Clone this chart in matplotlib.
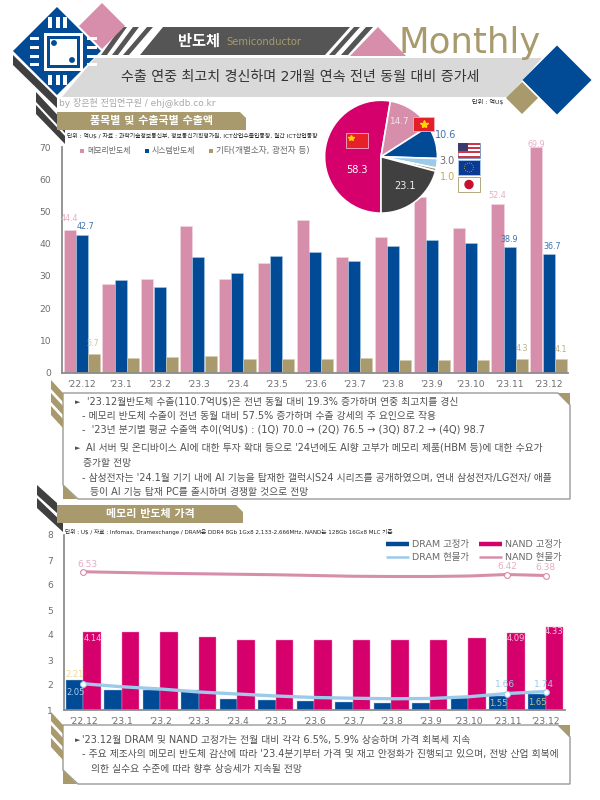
import matplotlib
matplotlib.use('Agg')
import numpy as np
import matplotlib.pyplot as plt
from matplotlib.patches import Polygon, Rectangle, Circle

plt.rcParams['font.family'] = ['DejaVu Sans', 'Noto Sans CJK KR']

months = ["'22.12", "'23.1", "'23.2", "'23.3", "'23.4", "'23.5", "'23.6", "'23.7", "'23.8", "'23.9", "'23.10", "'23.11", "'23.12"]

# export by item
memory = [44.4, 27.4, 29.0, 45.4, 29.1, 33.9, 47.4, 35.8, 42.2, 54.4, 44.8, 52.4, 69.9]
system = [42.7, 28.7, 26.7, 36.0, 30.8, 36.1, 37.5, 34.5, 39.4, 41.3, 40.3, 38.9, 36.7]
others = [5.7, 4.6, 4.9, 5.2, 4.2, 4.1, 4.2, 4.5, 4.0, 3.8, 3.8, 4.3, 4.1]

# export by country
pie_values = [58.3, 14.7, 10.6, 3.0, 1.0, 23.1]

# memory prices
dram_fixed = [2.21, 1.81, 1.81, 1.80, 1.44, 1.40, 1.36, 1.33, 1.28, 1.30, 1.47, 1.55, 1.65]
nand_fixed = [4.14, 4.14, 4.14, 3.93, 3.82, 3.82, 3.82, 3.82, 3.82, 3.82, 3.88, 4.09, 4.33]
dram_spot = [2.05, 1.93, 1.84, 1.72, 1.64, 1.56, 1.50, 1.47, 1.45, 1.46, 1.53, 1.66, 1.74]
nand_spot = [6.53, 6.50, 6.47, 6.45, 6.43, 6.41, 6.38, 6.35, 6.34, 6.34, 6.36, 6.42, 6.38]

PINK = '#D78EAB'
BLUE = '#004A96'
TAN = '#A89A6C'
MAGENTA = '#D6006C'
DARK = '#404040'
SKY = '#9CCBEA'
GRAY = '#6E6E6E'

fig = plt.figure(figsize=(6, 8), dpi=100)


def px_axes(x0, y0, x1, y1, **kw):
    return fig.add_axes([x0 / 600, 1 - y1 / 800, (x1 - x0) / 600, (y1 - y0) / 800], **kw)


def style(ax, ymin, ymax, step):
    for s in ['top', 'right']:
        ax.spines[s].set_visible(False)
    for s in ['left', 'bottom']:
        ax.spines[s].set_color('#8C8C8C')
        ax.spines[s].set_linewidth(1.3)
    ax.set_xlim(0, 13)
    ax.set_ylim(ymin, ymax)
    ax.set_yticks(range(ymin, ymax + 1, step))
    ax.set_xticks(np.arange(13) + 0.5)
    ax.set_xticklabels(months)
    ax.tick_params(length=0, labelsize=6.6, colors=GRAY)
    ax.tick_params(axis='y', pad=8)
    ax.tick_params(axis='x', pad=5)
    ax.patch.set_alpha(0)


def note(ax, x, y, txt, color, dx=0, dy=5, size=5.8):
    ax.annotate(txt, (x, y), xytext=(dx, dy), textcoords='offset pixels', ha='center', va='center',
                fontsize=size, color=color)


# top chart
ax1 = px_axes(62.3, 147, 568, 372.7, zorder=1)
style(ax1, 0, 70, 10)
idx = np.arange(13)
ax1.bar(idx + 0.187, memory, 0.31, color=PINK, edgecolor='#F3D9E3', linewidth=0.4)
ax1.bar(idx + 0.5, system, 0.31, color=BLUE, edgecolor='#A9CBE8', linewidth=0.4)
ax1.bar(idx + 0.813, others, 0.31, color=TAN, edgecolor='#D5CCAE', linewidth=0.4)
note(ax1, 0.187, memory[0], '44.4', '#E3AFC3', dy=11)
note(ax1, 0.6, system[0], '42.7', '#3D72AC', dy=9)
note(ax1, 0.78, others[0], '5.7', '#CFC6A4', dy=11)
note(ax1, 11.187, memory[11], '52.4', '#E3AFC3', dy=8)
note(ax1, 11.5, system[11], '38.9', '#3D72AC', dy=8)
note(ax1, 12.187, memory[12], '69.9', '#E3AFC3', dy=3)
note(ax1, 12.6, system[12], '36.7', '#3D72AC', dy=8)
note(ax1, 11.813, others[11], '4.3', '#B9AE88', dy=10)
note(ax1, 12.813, others[12], '4.1', '#B9AE88', dy=10)

# pie
pax = px_axes(381 - 57, 156.7 - 57, 381 + 57, 156.7 + 57, zorder=2)
pax.pie(pie_values, colors=[MAGENTA, PINK, BLUE, SKY, TAN, DARK], startangle=-90, counterclock=False,
        radius=1.0, wedgeprops={'edgecolor': 'white', 'linewidth': 1.2})
pax.set_xlim(-1.01, 1.01)
pax.set_ylim(-1.01, 1.01)

# bottom chart
ax2 = px_axes(64, 535, 565, 710, zorder=1)
style(ax2, 1, 8, 1)
ax2.bar(idx + 0.268, dram_fixed, 0.455, color=BLUE, edgecolor='#A9CBE8', linewidth=0.3)
ax2.bar(idx + 0.722, nand_fixed, 0.455, color=MAGENTA, edgecolor='#F08CBB', linewidth=0.3)
ax2.plot(idx + 0.5, dram_spot, color=SKY, lw=2.4, zorder=4)
ax2.plot(idx + 0.5, nand_spot, color=PINK, lw=2.2, zorder=4)
mark = [0, 11, 12]
ax2.plot(idx[mark] + 0.5, [dram_spot[i] for i in mark], 'o', ms=4.2, mfc='white', mec=SKY, mew=0.8, zorder=5)
ax2.plot(idx[mark] + 0.5, [nand_spot[i] for i in mark], 'o', ms=4.2, mfc='white', mec=PINK, mew=0.8, zorder=5)
note(ax2, 0.28, dram_fixed[0], '2.21', '#F6D77F', dy=5, size=6)
note(ax2, 0.3, dram_spot[0], '2.05', '#A9CDE9', dy=-9, size=6)
note(ax2, 0.75, nand_fixed[0], '4.14', '#F7C4DC', dy=-7, size=6)
note(ax2, 11.72, nand_fixed[11], '4.09', '#F7C4DC', dy=-6, size=6)
note(ax2, 12.72, nand_fixed[12], '4.33', '#F7C4DC', dy=-5, size=6)
note(ax2, 0.6, nand_spot[0], '6.53', '#E3AFC3', dy=7, size=6.5)
note(ax2, 11.5, nand_spot[11], '6.42', '#E3AFC3', dy=8, size=6.5)
note(ax2, 12.5, nand_spot[12], '6.38', '#E3AFC3', dy=8, size=6.5)
note(ax2, 11.45, dram_spot[11], '1.66', SKY, dy=9, size=6.5)
note(ax2, 12.45, dram_spot[12], '1.74', SKY, dy=7, size=6.5)
note(ax2, 11.27, dram_fixed[11], '1.55', '#C9C08E', dy=-7, size=6)
note(ax2, 12.27, dram_fixed[12], '1.65', '#C9C08E', dy=-9, size=6)

# everything decorative goes on a full page axes in pixels
deco = fig.add_axes([0, 0, 1, 1], zorder=3)
deco.set_xlim(0, 600)
deco.set_ylim(800, 0)
deco.axis('off')


def poly(pts, color, z=1, **kw):
    deco.add_patch(Polygon(pts, closed=True, facecolor=color, edgecolor='none', zorder=z, **kw))


def diamond(cx, cy, r, color, z=1):
    poly([(cx - r, cy), (cx, cy - r), (cx + r, cy), (cx, cy + r)], color, z)


def rect(x, y, w, h, color, z=2, **kw):
    deco.add_patch(Rectangle((x, y), w, h, facecolor=color, zorder=z, **kw))


def label(x, y, s, size, color='#4A4A4A', ha='left', **kw):
    deco.text(x, y, s, fontsize=size, color=color, ha=ha, va='center', zorder=6, **kw)


# left strips under the chip
poly([(13, 55), (57, 98), (57, 108), (13, 65)], DARK)
poly([(36, 92), (65, 123), (65, 133), (36, 102)], DARK)
poly([(36, 105), (65, 136), (65, 144), (36, 114)], DARK)

# header band
poly([(163, 27), (350, 27), (325, 55), (140, 55)], '#555555')
for bx, tx, w in [(101, 121, 6), (112, 133, 6), (123, 147, 6), (329, 354, 6), (341, 366, 7)]:
    poly([(tx, 27), (tx + w, 27), (bx + w, 55), (bx, 55)], '#555555')
poly([(378, 27), (406, 56), (350, 56)], PINK)
diamond(102, 26, 23, PINK, 2)
poly([(95, 58), (542, 58), (508, 97), (62, 97)], '#D9D9D9')

# chip
diamond(57, 51, 44, BLUE, 3)
rect(44, 33, 39, 38, 'white', 4)
rect(47, 36, 33, 32, BLUE, 4)
rect(50, 39, 27, 26, 'white', 4)
deco.add_patch(Circle((54, 43), 2.2, color=BLUE, zorder=5))
deco.add_patch(Circle((72, 60), 2.2, color=BLUE, zorder=5))
for px in [48, 56, 63]:
    rect(px, 17, 3.6, 11, 'white', 4)
    rect(px, 75, 3.6, 10, 'white', 4)
for py in [37, 46, 55, 63]:
    rect(30, py, 9, 3.4, 'white', 4)
    rect(87, py, 10, 3.4, 'white', 4)

diamond(522, 98, 16, TAN)
diamond(557, 80, 34.5, BLUE)

label(199, 41, '반도체', 11, 'white', ha='center', fontweight='bold')
label(226, 42, 'Semiconductor', 7.2, TAN)
deco.text(398, 53, 'Monthly', fontsize=25.6, color=TAN, ha='left', va='baseline', zorder=6)
label(300, 77, '수출 연중 최고치 경신하며 2개월 연속 전년 동월 대비 증가세', 10.1, '#333333', ha='center')
label(59, 103, 'by 장은현 전임연구원 / ehj@kdb.co.kr', 6.5, '#A8A8A8')
label(472, 102, '단위 : 억U$', 4.4, '#222222')

# section headers
poly([(57, 112), (240, 112), (246, 118), (246, 130), (57, 130)], TAN, z=2)
label(152, 121, '품목별 및 수출국별 수출액', 7.9, 'white', ha='center', fontweight='bold')
label(67, 136, '단위 : 억U$ / 자료 : 과학기술정보통신부, 정보통신기획평가원, ICT산업수출입동향, 월간 ICT산업동향', 4.2, '#222222')
poly([(57, 505), (236, 505), (243, 512), (243, 523), (57, 523)], TAN, z=5)
label(150, 514, '메모리 반도체 가격', 7.9, 'white', ha='center', fontweight='bold')
label(65, 532, '단위 : U$ / 자료 : Infomax, Dramexchange / DRAM은 DDR4 8Gb 1Gx8 2,133-2,666MHz, NAND는 128Gb 16Gx8 MLC 기준', 4.1, '#222222')

# top legend
for x, c, s, sz in [(82, PINK, '메모리반도체', 5.7), (147, BLUE, '시스템반도체', 5.7), (211, TAN, '기타(개별소자, 광전자 등)', 6.2)]:
    rect(x - 2, 149, 4, 4, c, 6)
    label(x + 5, 151, s, sz, '#6A6A6A')

# bottom legend
for x, y, c, lw, s in [(386, 544, BLUE, 3.2, 'DRAM 고정가'), (479, 544, MAGENTA, 3.2, 'NAND 고정가'),
                       (386, 557, SKY, 1.8, 'DRAM 현물가'), (479, 557, PINK, 1.8, 'NAND 현물가')]:
    deco.plot([x, x + 23], [y, y], color=c, lw=lw, zorder=6, solid_capstyle='butt')
    label(x + 26, y, s, 6.8, '#6A6A6A')


def textbox(y0, y1):
    pts = [(63, y0), (558, y0), (570, y0 + 12), (570, y1), (78, y1), (63, y1 - 14)]
    poly(pts, 'white', z=1)
    deco.add_patch(Polygon(pts, closed=True, fill=False, edgecolor='#9A9A9A', lw=1, zorder=2))
    poly([(558, y0), (570, y0), (570, y0 + 12)], TAN, z=3)
    poly([(63, y1 - 14), (77, y1), (63, y1)], TAN, z=3)
    for k in range(3):
        yy = y0 - 13 + k * 13
        poly([(51, yy), (63, yy + 13), (63, yy + 22), (51, yy + 9)], TAN, z=3)


textbox(393, 499)
textbox(725, 784)
poly([(37, 485), (57, 503), (57, 513), (37, 495)], DARK, z=4)
poly([(37, 498), (63, 523), (63, 532), (37, 508)], DARK, z=4)

# commentary
c1 = '#505050'
fs = 7.05
deco.text(75, 402, '►', fontsize=5, color=c1, va='center', zorder=6)
label(87, 402, "'23.12월반도체 수출(110.7억U$)은 전년 동월 대비 19.3% 증가하며 연중 최고치를 경신", fs, c1)
label(82, 416, '- 메모리 반도체 수출이 전년 동월 대비 57.5% 증가하며 수출 강세의 주 요인으로 작용', fs, c1)
label(82, 430, "-  '23년 분기별 평균 수출액 추이(억U$) : (1Q) 70.0 → (2Q) 76.5 → (3Q) 87.2 → (4Q) 98.7", fs, c1)
deco.text(75, 448, '►', fontsize=5, color=c1, va='center', zorder=6)
label(86, 448, "AI 서버 및 온디바이스 AI에 대한 투자 확대 등으로 '24년에도 AI향 고부가 메모리 제품(HBM 등)에 대한 수요가", fs, c1)
label(83, 463, '증가할 전망', fs, c1)
label(82, 478, "- 삼성전자는 '24.1월 기기 내에 AI 기능을 탑재한 갤럭시S24 시리즈를 공개하였으며, 연내 삼성전자/LG전자/ 애플", fs, c1)
label(90, 492, '등이 AI 기능 탑재 PC를 출시하며 경쟁할 것으로 전망', fs, c1)
deco.text(75, 740, '►', fontsize=5, color=c1, va='center', zorder=6)
label(82, 740, "'23.12월 DRAM 및 NAND 고정가는 전월 대비 각각 6.5%, 5.9% 상승하며 가격 회복세 지속", fs, c1)
label(82, 754, "- 주요 제조사의 메모리 반도체 감산에 따라 '23.4분기부터 가격 및 재고 안정화가 진행되고 있으며, 전방 산업 회복에", fs, c1)
label(91, 769, '의한 실수요 수준에 따라 향후 상승세가 지속될 전망', fs, c1)

# pie labels and flags
label(399, 122, f'{pie_values[1]}', 6.4, '#F5E3EA', ha='center')
label(446, 135, f'{pie_values[2]}', 7, '#3D72AC', ha='center')
label(447, 161, f'{pie_values[3]}', 7, '#6A6A6A', ha='center')
label(448, 177, f'{pie_values[4]}', 7, '#C9A84C', ha='center')
label(357, 170, f'{pie_values[0]}', 7, 'white', ha='center')
label(405, 186, f'{pie_values[5]}', 7, '#EEEEEE', ha='center')

rect(346, 133, 22, 15, '#E8202A', 5, edgecolor='#F4B0C8', lw=0.6)
deco.plot([351], [138], marker='*', ms=4, color='#FFD400', zorder=6)
rect(413, 117, 21, 14, '#E3202A', 5, edgecolor='#F4B0C8', lw=0.6)
deco.plot([423.5], [124], marker='*', ms=6, color='#FFD400', zorder=6)
rect(458, 143, 22, 15, 'white', 5, edgecolor='#6F87B5', lw=0.6)
for k in range(0, 7, 2):
    rect(458, 143 + k * 2.1, 22, 2.1, '#C8374A', 5)
rect(458, 143, 10, 8, '#3C3B6E', 5)
rect(458, 160, 22, 15, '#0B3A94', 5, edgecolor='#A9CBE8', lw=0.6)
deco.add_patch(Circle((469, 167.5), 4.5, fill=False, edgecolor='#C9B44C', lw=0.6, ls=':', zorder=6))
rect(458, 177, 22, 15, 'white', 5, edgecolor=TAN, lw=0.6)
deco.add_patch(Circle((469, 184.5), 4, color='#C8102E', zorder=6))

fig.savefig('out.png', dpi=100)
